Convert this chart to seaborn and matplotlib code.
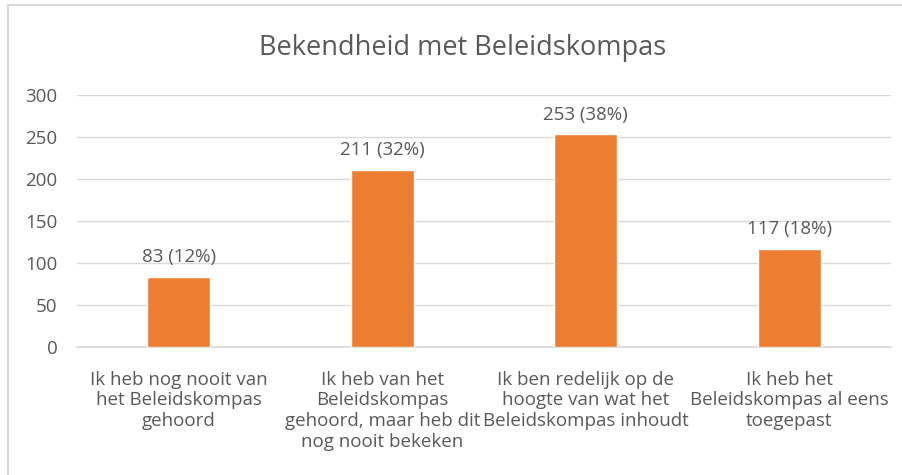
import pandas as pd
import matplotlib.pyplot as plt
import seaborn as sns
from matplotlib.patches import Rectangle

categories = [
    'Ik heb nog nooit van\nhet Beleidskompas\ngehoord',
    'Ik heb van het\nBeleidskompas\ngehoord, maar heb dit\nnog nooit bekeken',
    'Ik ben redelijk op de\nhoogte van wat het\nBeleidskompas inhoudt',
    'Ik heb het\nBeleidskompas al eens\ntoegepast',
]
counts = [83, 211, 253, 117]
percents = [12, 32, 38, 18]

df = pd.DataFrame({'categorie': categories, 'aantal': counts})

sns.set_theme(style='white')
plt.rcParams['font.family'] = ['Open Sans', 'DejaVu Sans']
text_color = '#595959'
grid_color = '#D9D9D9'
bar_color = '#ED7D31'

fig = plt.figure(figsize=(9.03, 4.75), dpi=100)
ax = fig.add_axes([0.0853, 0.2695, 0.9014, 0.5305])

sns.barplot(data=df, x='categorie', y='aantal', color=bar_color, width=0.31,
            saturation=1, ax=ax, zorder=3)

ax.set_ylim(0, 300)
ax.set_xlim(-0.5, 3.5)
ax.set_yticks(range(0, 301, 50))
ax.yaxis.grid(True, color=grid_color, linewidth=1)
ax.set_axisbelow(True)
for s in ['top', 'right', 'left']:
    ax.spines[s].set_visible(False)
ax.spines['bottom'].set_color(grid_color)
ax.tick_params(axis='both', length=0, colors=text_color)
ax.tick_params(axis='y', pad=14, labelsize=13.5)
ax.tick_params(axis='x', pad=17, labelsize=13.5)
ax.set_xlabel('')
ax.set_ylabel('')

for i, (c, p) in enumerate(zip(counts, percents)):
    ax.text(i, c + 13, f'{c} ({p}%)', ha='center', va='bottom',
            fontsize=13.5, color=text_color)

fig.text(0.512, 0.9, 'Bekendheid met Beleidskompas', ha='center', va='center',
         fontsize=19.5, color=text_color)

# chart frame border (top and left visible)
fig.patches.append(Rectangle((8 / 903, -0.1), 1.2, 1 - 5 / 475 + 0.1,
                             transform=fig.transFigure, fill=False,
                             edgecolor=grid_color, linewidth=1.5))

fig.savefig('out.png', dpi=100, facecolor='white')
